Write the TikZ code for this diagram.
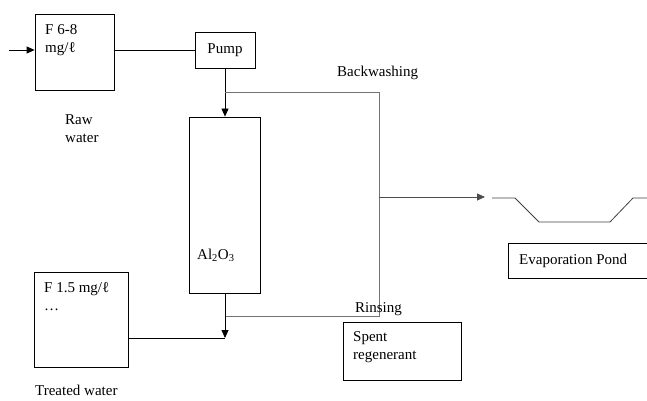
\documentclass[tikz,border=0pt]{standalone}
\usepackage{fontspec}
\setmainfont{Liberation Serif}
\usetikzlibrary{arrows.meta, positioning}

\begin{document}
\begin{tikzpicture}[
    x=1pt, y=-1pt,
    font=\fontsize{15}{18}\selectfont,
    box/.style={rectangle, draw=black, line width=0.8pt, inner sep=0pt},
    txt/.style={inner sep=0pt, align=left, anchor=north west},
    flow/.style={line width=0.8pt, -{Triangle[length=8pt, width=7pt]}},
    wash/.style={draw=black!55, line width=0.9pt}
]
    \useasboundingbox (0,0) rectangle (647,401);

    % Raw water tank
    \node[box, minimum width=79pt, minimum height=76pt] (raw) at (74.5,52) {};
    \node[txt] (rawtxt) at (45,24) {F 6-8\\mg/ℓ};
    \node[txt] (rawlbl) at (65,114) {Raw\\water};
    \coordinate (feed) at (9,50);
    \draw[flow] (feed) -- (feed -| raw.west);

    % Pump
    \node[box, minimum width=60pt, minimum height=36pt] (pump) at (225,50) {Pump};
    \draw[line width=0.8pt] (raw.east |- pump) -- (pump.west);

    % Alumina column
    \node[box, minimum width=71pt, minimum height=176pt] (column) at (225,205) {};
    \node[inner sep=0pt, anchor=west] (al) at (197,255) {Al\textsubscript{2}O\textsubscript{3}};
    \draw[flow] (pump.south) -- (column.north);

    % Backwashing and rinsing loop
    \coordinate (bw) at (225,92);
    \coordinate (bwr) at (379,92);
    \coordinate (rn) at (225,316);
    \coordinate (rnr) at (379,316);
    \coordinate (mid) at (379,197);
    \draw[wash] (bw) -- (bwr) -- (rnr) -- (rn);
    \node[inner sep=0pt, anchor=west] (bwlbl) at (337,73) {Backwashing};
    \node[inner sep=0pt, anchor=west] (rnlbl) at (355,309) {Rinsing};

    % Evaporation pond
    \coordinate (pondin) at (485,197);
    \draw[flow, draw=black!70] (mid) -- (pondin);
    \draw[line width=0.8pt, black!75] (492,198) -- (515,198) -- (539,222) -- (610,222) -- (633,198) -- (652,198);
    \draw[box] (652,243) -- (508,243) -- (508,278) -- (652,278);
    \node[inner sep=0pt, anchor=west] (pond) at (519,261) {Evaporation Pond};

    % Spent regenerant
    \node[box, minimum width=118pt, minimum height=58pt] (spent) at (402,351) {};
    \node[txt] (spenttxt) at (353,331) {Spent\\regenerant};

    % Treated water tank
    \node[box, minimum width=94pt, minimum height=95pt] (treated) at (81,319.5) {};
    \node[txt] (trtxt) at (44,282) {F 1.5 mg/ℓ\\\dots};
    \node[inner sep=0pt, anchor=west] (trlbl) at (35,390) {Treated water};
    \coordinate (jn) at (225,338);
    \draw[flow] (column.south) -- (jn);
    \draw[line width=0.8pt] (treated.east |- jn) -- (jn);
\end{tikzpicture}
\end{document}
